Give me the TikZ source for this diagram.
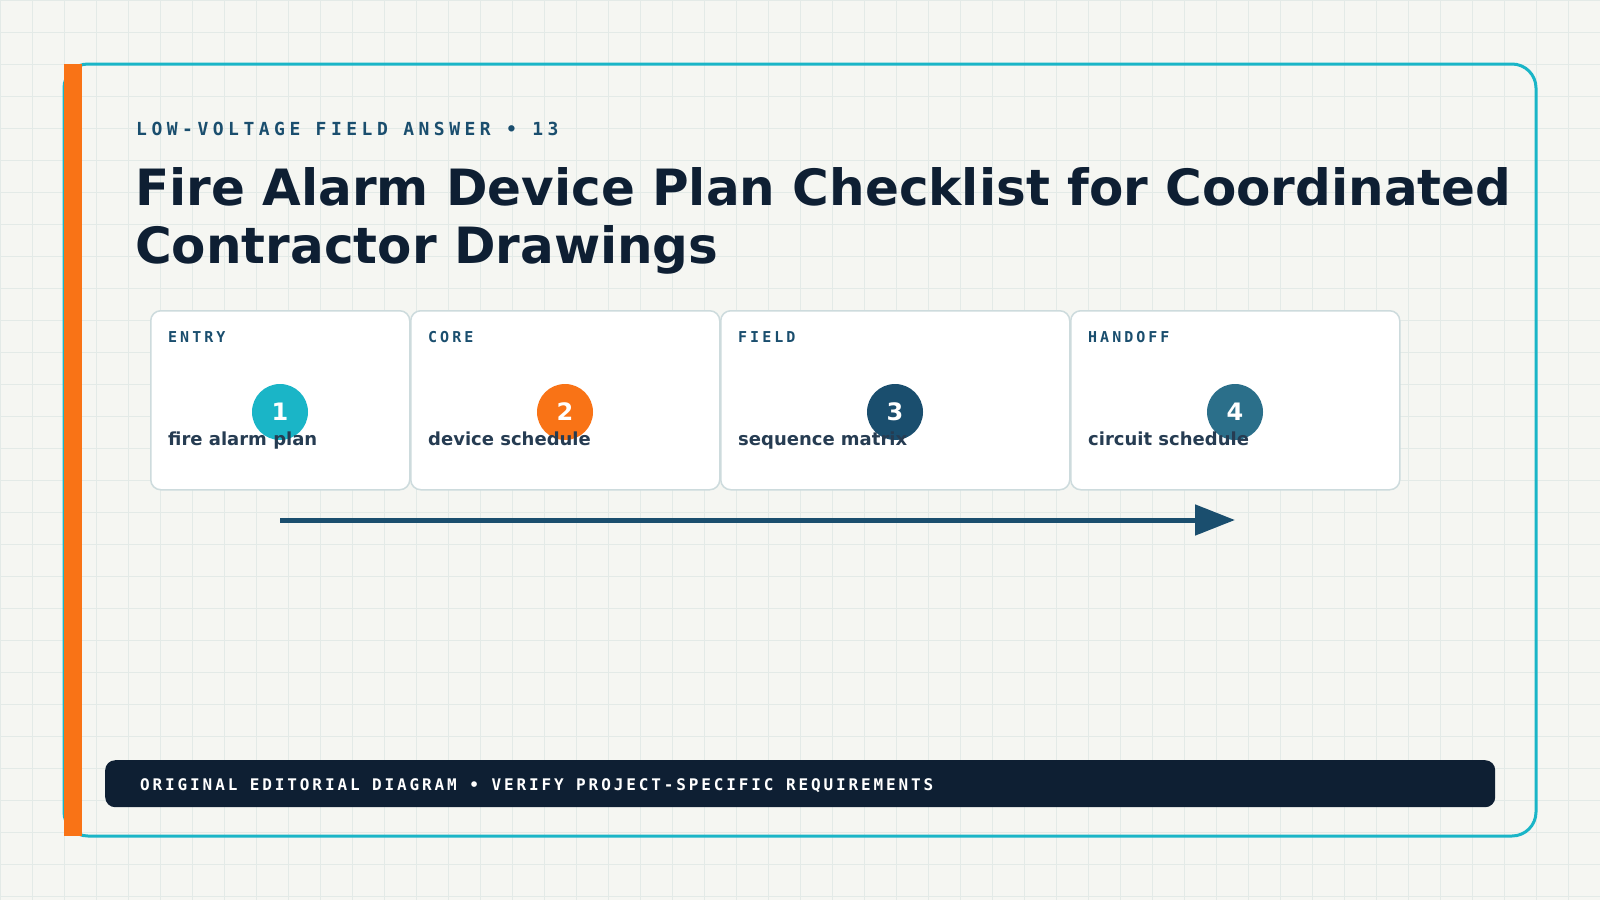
\documentclass[tikz,border=0pt]{standalone}
\usepackage{fontspec}
\setmainfont{DejaVu Sans}
\newfontfamily\eyefont{DejaVu Sans Mono}[LetterSpace=25]
\newfontfamily\tagfont{DejaVu Sans Mono}[LetterSpace=20]
\newfontfamily\footfont{DejaVu Sans Mono}[LetterSpace=18]
\usetikzlibrary{arrows.meta}
\definecolor{bgc}{HTML}{F5F6F2}
\definecolor{gridc}{HTML}{E3EAE7}
\definecolor{tealc}{HTML}{1AB5C7}
\definecolor{orangec}{HTML}{F97316}
\definecolor{navyc}{HTML}{0E1F33}
\definecolor{bluec}{HTML}{1A4E6E}
\definecolor{steelc}{HTML}{2B6F8A}
\definecolor{slatec}{HTML}{263C52}
\definecolor{cardline}{HTML}{CDDBDD}
\tikzset{
  gridline/.style={draw=gridc, line width=0.8pt},
  frame/.style={draw=tealc, line width=3pt, rounded corners=24pt},
  card/.style={draw=cardline, fill=white, line width=1.5pt, rounded corners=10pt, anchor=north west, minimum height=179pt, inner sep=0pt},
  tag/.style={anchor=base west, inner sep=0pt, text=bluec, font=\tagfont\bfseries\fontsize{15}{18}\selectfont},
  body/.style={anchor=base west, inner sep=0pt, text=slatec, font=\bfseries\fontsize{18}{22}\selectfont},
  badge/.style={circle, minimum size=56pt, inner sep=0pt, text=white, font=\bfseries\fontsize{24}{28}\selectfont},
  titletext/.style={anchor=base west, inner sep=0pt, text=navyc, font=\bfseries\fontsize{50}{58}\selectfont},
  flow/.style={draw=bluec, line width=5pt, -{Triangle[length=40pt,width=30pt]}},
}
\begin{document}
\begin{tikzpicture}[x=1pt,y=-1pt]
\useasboundingbox (0,0) rectangle (1600,900);
\fill[bgc] (0,0) rectangle (1600,900);
\foreach \g in {0,32,...,1600} \draw[gridline] (\g,0) -- (\g,900);
\foreach \g in {0,32,...,896} \draw[gridline] (0,\g) -- (1600,\g);
% frame
\draw[frame] (64,64) rectangle (1536,836);
\fill[orangec] (64,64) rectangle (82,836);
% heading
\node[anchor=base west, inner sep=0pt, text=bluec, font=\eyefont\bfseries\fontsize{18}{22}\selectfont] (eyebrow) at (136,135) {LOW-VOLTAGE FIELD ANSWER • 13};
\node[titletext] (title1) at (135,205) {Fire Alarm Device Plan Checklist for Coordinated};
\node[titletext] (title2) at (135,263) {Contractor Drawings};
% cards
\node[card, minimum width=259pt] (c1) at (150,310) {};
\node[card, minimum width=309pt] (c2) at (410,310) {};
\node[card, minimum width=349pt] (c3) at (720,310) {};
\node[card, minimum width=329pt] (c4) at (1070,310) {};
\node[tag] (t1) at (168,342) {ENTRY};
\node[tag] (t2) at (428,342) {CORE};
\node[tag] (t3) at (738,342) {FIELD};
\node[tag] (t4) at (1088,342) {HANDOFF};
\node[badge, fill=tealc] (n1) at (280,412) {1};
\node[badge, fill=orangec] (n2) at (565,412) {2};
\node[badge, fill=bluec] (n3) at (895,412) {3};
\node[badge, fill=steelc] (n4) at (1235,412) {4};
\node[body] (b1) at (168,445) {fire alarm plan};
\node[body] (b2) at (428,445) {device schedule};
\node[body] (b3) at (738,445) {sequence matrix};
\node[body] (b4) at (1088,445) {circuit schedule};
% flow arrow
\coordinate (fs) at (280,520);
\coordinate (fe) at (1235,520);
\draw[flow] (fs) -- (fe);
% footer
\node[fill=navyc, rounded corners=10pt, anchor=north west, minimum width=1390pt, minimum height=47pt, inner sep=0pt] (foot) at (105,760) {};
\node[anchor=base west, inner sep=0pt, text=white, font=\footfont\bfseries\fontsize{16}{20}\selectfont] (foottext) at (140,790) {ORIGINAL EDITORIAL DIAGRAM • VERIFY PROJECT-SPECIFIC REQUIREMENTS};
\end{tikzpicture}
\end{document}
